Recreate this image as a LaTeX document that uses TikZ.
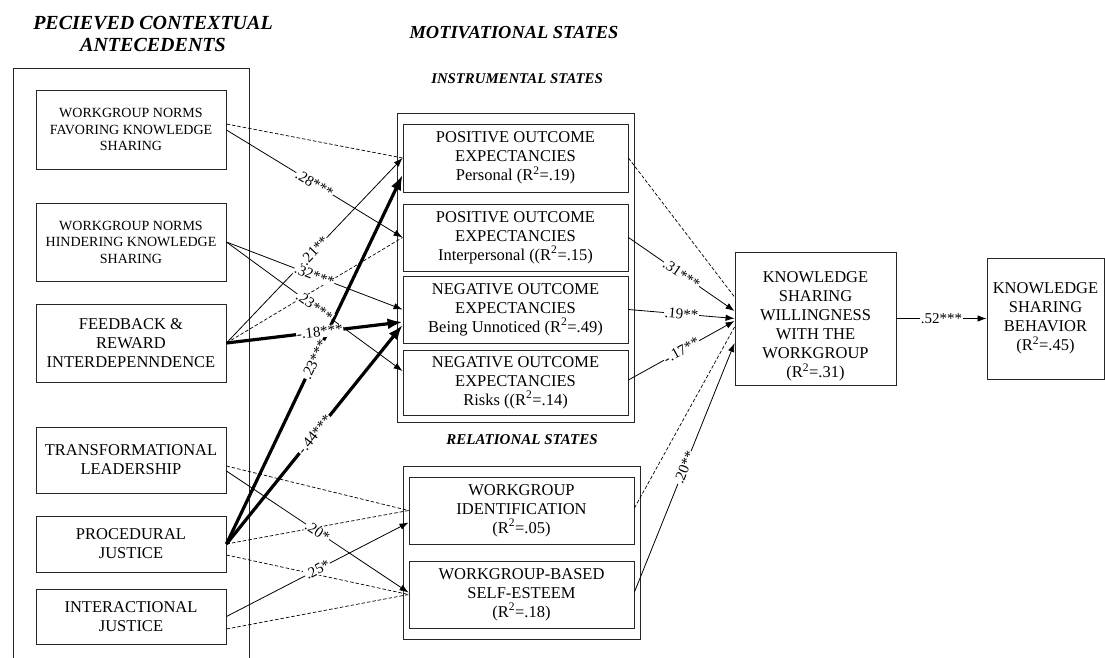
\documentclass[tikz,border=0pt]{standalone}
\usepackage{fontspec}
\setmainfont{Liberation Serif}
\usetikzlibrary{arrows.meta,calc}
\begin{document}
\begin{tikzpicture}[x=1pt,y=-1pt,
  box/.style={draw=black!85, line width=0.9pt, align=center, inner sep=1pt,
    font={\fontsize{16.5}{19}\selectfont}},
  smallbox/.style={box, font={\fontsize{14}{16.5}\selectfont}},
  frame/.style={draw=black!85, line width=0.9pt},
  hdr/.style={align=center, font={\fontsize{20}{22}\selectfont\bfseries\itshape}},
  sig/.style={line width=0.8pt, -{Latex[length=9pt,width=6.5pt]}},
  bigsig/.style={line width=3.2pt, -{Latex[length=15pt,width=11pt]}},
  ns/.style={line width=0.7pt, dash pattern=on 3.5pt off 2pt},
  lbl/.style={sloped, midway, fill=white, inner sep=0.6pt, font={\fontsize{15}{16}\selectfont}}
]
\useasboundingbox (0,0) rectangle (1105,658);

% headers
\node[hdr] (h1) at (153,34) {PECIEVED CONTEXTUAL\\ANTECEDENTS};
\node[hdr, font={\fontsize{18.4}{20}\selectfont\bfseries\itshape}] (h2) at (514,33) {MOTIVATIONAL STATES};
\node[hdr, font={\fontsize{14.8}{16}\selectfont\bfseries\itshape}] (h3) at (517,79) {INSTRUMENTAL STATES};
\node[hdr, font={\fontsize{15}{16}\selectfont\bfseries\itshape}] (h4) at (522,440) {RELATIONAL STATES};

% frames
\draw[frame] (13,672) -- (13,68) -- (249,68) -- (249,672);
\draw[frame] (397,113) rectangle (634,422);
\draw[frame] (403,466) rectangle (640,639);

% left boxes
\node[smallbox, minimum width=190pt, minimum height=79pt] (wnf) at (131,129.5) {WORKGROUP NORMS\\FAVORING KNOWLEDGE\\SHARING};
\node[smallbox, minimum width=190pt, minimum height=78pt] (wnh) at (131,242) {WORKGROUP NORMS\\HINDERING KNOWLEDGE\\SHARING};
\node[box, minimum width=190pt, minimum height=78pt] (fri) at (131,343) {FEEDBACK \&\\REWARD\\INTERDEPENNDENCE};
\node[box, minimum width=190pt, minimum height=66pt] (tl) at (131,460) {TRANSFORMATIONAL\\LEADERSHIP};
\node[box, minimum width=190pt, minimum height=56pt] (pj) at (131,544) {PROCEDURAL\\JUSTICE};
\node[box, minimum width=190pt, minimum height=55pt] (ij) at (131,616.5) {INTERACTIONAL\\JUSTICE};

% instrumental states
\node[box, minimum width=225pt, minimum height=68pt] (poep) at (515.5,158) {POSITIVE OUTCOME\\EXPECTANCIES\\Personal (R\textsuperscript{2}=.19)};
\node[box, minimum width=225pt, minimum height=67pt] (poei) at (515.5,237.5) {POSITIVE OUTCOME\\EXPECTANCIES\\Interpersonal ((R\textsuperscript{2}=.15)};
\node[box, minimum width=225pt, minimum height=67pt] (noeb) at (515.5,309.5) {NEGATIVE OUTCOME\\EXPECTANCIES\\Being Unnoticed (R\textsuperscript{2}=.49)};
\node[box, minimum width=225pt, minimum height=65pt] (noer) at (515.5,382.5) {NEGATIVE OUTCOME\\EXPECTANCIES\\Risks ((R\textsuperscript{2}=.14)};

% relational states
\node[box, minimum width=225pt, minimum height=67pt] (wi) at (521.5,510.5) {WORKGROUP\\IDENTIFICATION\\(R\textsuperscript{2}=.05)};
\node[box, minimum width=225pt, minimum height=67pt] (wbse) at (521.5,594.5) {WORKGROUP-BASED\\SELF-ESTEEM\\(R\textsuperscript{2}=.18)};

% outcomes
\node[box, minimum width=161pt, minimum height=133pt] (ksw) at (815.5,318.5) {};
\node[align=center, inner sep=0pt, font={\fontsize{16.5}{19}\selectfont}] (kswt) at ($(ksw.center)+(0,8)$) {KNOWLEDGE\\SHARING\\WILLINGNESS\\WITH THE\\WORKGROUP\\(R\textsuperscript{2}=.31)};
\node[box, minimum width=117pt, minimum height=121pt] (ksb) at (1045.5,318.5) {KNOWLEDGE\\SHARING\\BEHAVIOR\\(R\textsuperscript{2}=.45)};

% connectors
\draw[ns] ($(wnf.east)+(0,-5.5)$) -- (poep.west);
\draw[sig] ($(wnf.east)+(0,0.5)$) -- (poei.west);
\draw[sig] (wnh.east) -- (noeb.west);
\draw[sig] (wnh.east) -- ($(noer.west)+(0,-11.5)$);
\draw[sig] (fri.east) -- (poep.west);
\draw[ns] (fri.east) -- (poei.west);
\draw[bigsig] (fri.east) -- ($(noeb.west)+(0,12.5)$);
\draw[bigsig] (pj.east) -- ($(poep.west)+(0,17)$);
\draw[bigsig] (pj.east) -- ($(noeb.west)+(0,15.5)$);
\draw[ns] (pj.east) -- (wi.west);
\draw[ns] ($(pj.east)+(0,11)$) -- (wbse.west);
\draw[ns] ($(tl.east)+(0,6)$) -- (wi.west);
\draw[sig] ($(tl.east)+(0,11)$) -- ($(wbse.west)+(0,-2)$);
\draw[sig] (ij.east) -- ($(wi.west)+(0,12)$);
\draw[ns] ($(ij.east)+(0,12.5)$) -- (wbse.west);
\draw[ns] (poep.east) -- ($(ksw.west)+(0,-21.5)$);
\draw[sig] (poei.east) -- ($(ksw.west)+(0,-7.5)$);
\draw[sig] (noeb.east) -- (ksw.west);
\draw[sig] ($(noer.east)+(0,-2.5)$) -- ($(ksw.west)+(0,2.5)$);
\draw[ns] ($(wi.east)+(0,-2.5)$) -- ($(ksw.west)+(0,8.5)$);
\draw[sig] ($(wbse.east)+(0,-2.5)$) -- ($(ksw.west)+(0,24.5)$);
\draw[sig] (ksw.east) -- (ksb.west);

% labels (on top)
\path ($(wnf.east)+(0,0.5)$) -- (poei.west) node[lbl] {.28***};
\path (wnh.east) -- (noeb.west) node[lbl] {.32***};
\path (wnh.east) -- ($(noer.west)+(0,-11.5)$) node[lbl] {.23***};
\path (fri.east) -- (poep.west) node[lbl] {.21**};
\path (pj.east) -- ($(poep.west)+(0,17)$) node[lbl] {.23***};
\path (pj.east) -- ($(noeb.west)+(0,15.5)$) node[lbl] {-.44***};
\path (fri.east) -- ($(noeb.west)+(0,12.5)$) node[lbl, pos=0.53] {-.18***};
\path ($(tl.east)+(0,11)$) -- ($(wbse.west)+(0,-2)$) node[lbl] {.20*};
\path (ij.east) -- ($(wi.west)+(0,12)$) node[lbl] {.25*};
\path (poei.east) -- ($(ksw.west)+(0,-7.5)$) node[lbl] {.31***};
\path (noeb.east) -- (ksw.west) node[lbl] {.19**};
\path ($(noer.east)+(0,-2.5)$) -- ($(ksw.west)+(0,2.5)$) node[lbl] {-.17**};
\path ($(wbse.east)+(0,-2.5)$) -- ($(ksw.west)+(0,24.5)$) node[lbl] {.20**};
\path (ksw.east) -- (ksb.west) node[lbl] {.52***};
\end{tikzpicture}
\end{document}
